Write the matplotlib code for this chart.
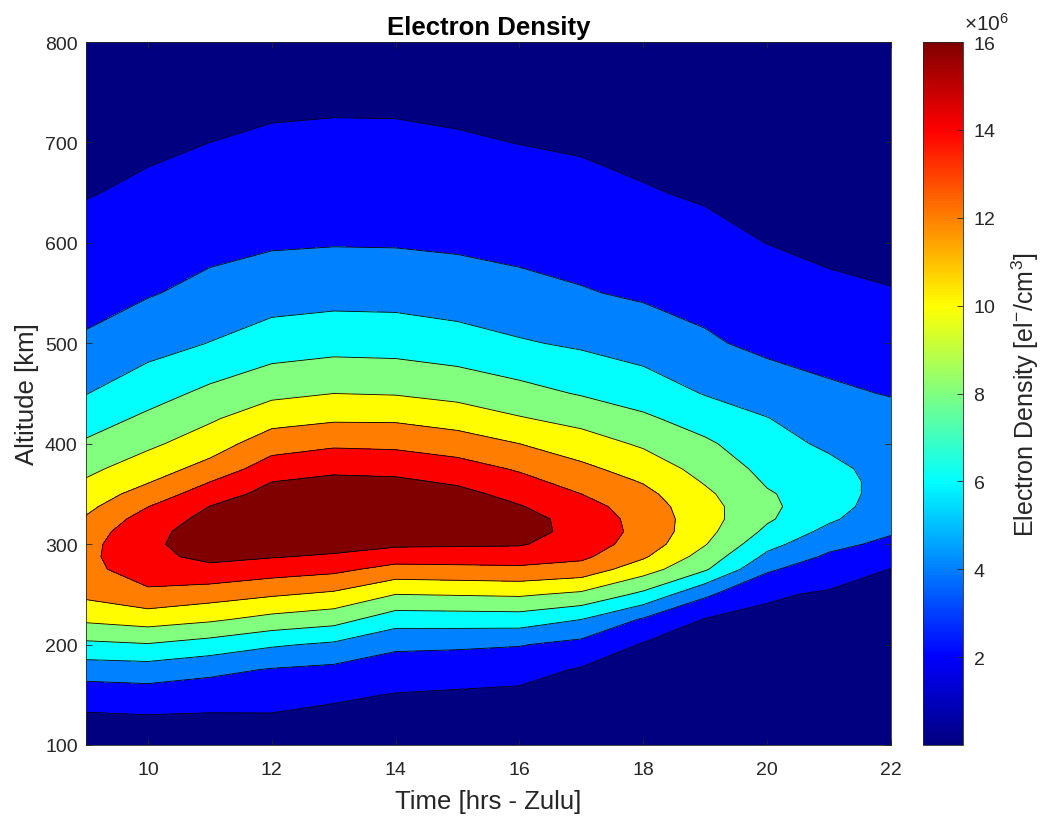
import numpy as np
import matplotlib.pyplot as plt
from matplotlib import cm, colors
from matplotlib.ticker import ScalarFormatter

plt.rcParams['font.family'] = ['Liberation Sans', 'DejaVu Sans']
plt.rcParams['mathtext.fontset'] = 'custom'
plt.rcParams['mathtext.rm'] = 'Liberation Sans'
plt.rcParams['mathtext.it'] = 'Liberation Sans:italic'

# Time grid (hours, Zulu) and altitude grid (km)
hours = [9, 10, 11, 12, 13, 14, 15, 16, 17, 18, 19, 20, 21, 22]
altitude_km = [100, 125, 150, 175, 200, 225, 250, 275, 287.5, 300, 312.5, 325,
               337.5, 350, 362.5, 375, 400, 425, 450, 500, 550, 600, 650, 700,
               750, 800]

# Electron density profiles, one per hour, in units of 1e6 el/cm^3
ne_09 = [0.8, 1.61, 2.90, 4.95, 7.58, 10.36, 12.43, 13.37, 13.5, 13.36, 12.94, 12.21,
         11.5, 10.84, 10.18, 9.54, 8.26, 7.08, 5.95, 4.22, 3.41, 2.62, 1.90, 1.47,
         1.03, 0.6]
ne_10 = [0.8, 1.71, 3.13, 5.09, 7.88, 10.89, 13.5, 15.18, 15.57, 15.7, 15.51, 14.93,
         13.96, 12.87, 11.84, 11.06, 9.61, 8.39, 7.21, 5.26, 3.86, 3.09, 2.31, 1.70,
         1.20, 0.7]
ne_11 = [0.8, 1.66, 2.86, 4.5, 7.18, 10.3, 12.89, 15.58, 16.4, 16.74, 16.78, 16.54,
         16.03, 15.0, 13.95, 12.7, 11.05, 9.74, 8.46, 6.05, 4.52, 3.50, 2.75, 2.0,
         1.4, 0.8]
ne_12 = [0.8, 1.71, 2.76, 3.87, 6.25, 9.38, 12.24, 14.95, 16.11, 16.81, 17.21, 17.29,
         17.11, 16.66, 15.96, 15.0, 13.11, 11.26, 9.54, 6.95, 5.11, 3.79, 3.03, 2.27,
         1.57, 0.9]
ne_13 = [0.7, 1.44, 2.3, 3.55, 5.68, 8.78, 11.65, 14.5, 15.75, 16.73, 17.33, 17.59,
         17.51, 17.14, 16.47, 15.56, 13.68, 11.72, 10.0, 7.26, 5.30, 3.89, 3.13, 2.37,
         1.62, 0.9]
ne_14 = [0.6, 1.26, 1.92, 3.02, 4.38, 6.89, 10.0, 13.33, 14.94, 16.33, 17.1, 17.47,
         17.44, 17.06, 16.34, 15.41, 13.56, 11.70, 9.88, 7.18, 5.26, 3.86, 3.11, 2.35,
         1.61, 0.9]
ne_15 = [0.5, 1.14, 1.77, 2.84, 4.3, 6.94, 10.13, 13.47, 14.94, 16.25, 17.0, 17.29,
         17.15, 16.59, 15.69, 14.83, 13.0, 11.11, 9.41, 6.79, 4.97, 3.71, 2.95, 2.18,
         1.50, 0.85]
ne_16 = [0.4, 1.03, 1.65, 2.63, 4.11, 7.0, 10.27, 13.6, 14.95, 16.17, 16.83, 16.8,
         16.12, 15.33, 14.58, 13.79, 12.0, 10.15, 8.65, 6.19, 4.54, 3.49, 2.72, 1.97,
         1.38, 0.8]
ne_17 = [0.3, 0.81, 1.32, 1.84, 3.42, 6.0, 9.6, 13.18, 14.4, 15.03, 15.29, 15.19,
         14.76, 14.0, 13.22, 12.44, 10.91, 9.38, 7.86, 5.71, 4.13, 3.28, 2.5, 1.80,
         1.25, 0.7]
ne_18 = [0.2, 0.61, 1.03, 1.44, 1.85, 3.78, 7.54, 10.89, 12.25, 13.12, 13.4, 13.30,
         13.0, 12.52, 11.86, 11.14, 9.72, 8.33, 7.07, 5.10, 3.74, 2.93, 2.11, 1.58,
         1.09, 0.6]
ne_19 = [0.15, 0.5, 0.85, 1.2, 1.55, 1.9, 4.33, 8.23, 9.19, 10.1, 10.59, 10.79,
         10.72, 10.37, 9.82, 9.32, 8.32, 7.13, 5.9, 4.29, 3.32, 2.48, 1.82, 1.38,
         0.94, 0.5]
ne_20 = [0.1, 0.42, 0.74, 1.06, 1.38, 1.7, 2.17, 4.3, 5.55, 6.62, 7.58, 8.26,
         8.39, 8.18, 7.79, 7.44, 6.75, 6.06, 5.15, 3.5, 2.81, 1.98, 1.58, 1.19,
         0.79, 0.4]
ne_21 = [0.1, 0.39, 0.68, 0.96, 1.25, 1.54, 1.83, 2.74, 3.67, 4.57, 5.46, 6.31,
         6.83, 7.0, 6.89, 6.54, 5.65, 4.97, 4.3, 3.29, 2.2, 1.79, 1.43, 1.07,
         0.71, 0.35]
ne_22 = [0.1, 0.37, 0.63, 0.9, 1.17, 1.43, 1.7, 1.97, 2.66, 3.52, 4.21, 4.59,
         4.88, 5.08, 5.18, 5.19, 5.01, 4.56, 3.91, 3.01, 2.05, 1.69, 1.35, 1.0,
         0.65, 0.3]

# Contour levels (1e6 el/cm^3); last one just caps the top band
levels = [0, 2, 4, 6, 8, 10, 12, 14, 16, 20]
cbar_ticks = [2, 4, 6, 8, 10, 12, 14, 16]

density = np.column_stack([ne_09, ne_10, ne_11, ne_12, ne_13, ne_14, ne_15,
                           ne_16, ne_17, ne_18, ne_19, ne_20, ne_21, ne_22]) * 1e6
T, H = np.meshgrid(hours, altitude_km)
lev = np.array(levels) * 1e6

# jet as MATLAB builds it (piecewise linear through 9 anchor colours)
jet_ml = colors.LinearSegmentedColormap.from_list('jet_ml', [
    (0, 0, 0.5), (0, 0, 1), (0, 0.5, 1), (0, 1, 1), (0.5, 1, 0.5),
    (1, 1, 0), (1, 0.5, 0), (1, 0, 0), (0.5, 0, 0)], N=256)
# each band takes the colour of its lower level, colour range 0..16e6
band_colors = [jet_ml(l / 16.0) for l in levels[:-1]]

fig = plt.figure(figsize=(10.4, 8.2), dpi=100)
ax = fig.add_axes([86 / 1040, 74 / 820, 805 / 1040, 703 / 820])

ax.contourf(T, H, density, levels=lev, colors=band_colors)
ax.contour(T, H, density, levels=lev[1:-1], colors='k', linewidths=0.6)

dark = (0.15, 0.15, 0.15)
ax.set_xlim(9, 22)
ax.set_ylim(100, 800)
ax.set_xticks(range(10, 23, 2))
ax.set_yticks(range(100, 801, 100))
ax.tick_params(axis='both', direction='in', top=True, right=True, length=4,
               width=0.6, labelsize=14, colors=dark)
ax.tick_params(axis='x', pad=11.5)
ax.tick_params(axis='y', pad=6)
for s in ax.spines.values():
    s.set_color(dark)
    s.set_linewidth(0.6)

ax.set_xlabel('Time [hrs - Zulu]', fontsize=18.5, color=dark, labelpad=8)
ax.set_ylabel('Altitude [km]', fontsize=18.5, color=dark, labelpad=4)
ax.set_title('Electron Density', fontsize=18.5, fontweight='bold', pad=6)

# colour bar
cax = fig.add_axes([923 / 1040, 74 / 820, 40 / 1040, 703 / 820])
sm = cm.ScalarMappable(norm=colors.Normalize(0, 16e6), cmap=jet_ml)
cb = fig.colorbar(sm, cax=cax)
cb.set_ticks(np.array(cbar_ticks) * 1e6)
fmt = ScalarFormatter(useMathText=True)
fmt.set_powerlimits((6, 6))
cb.formatter = fmt
cb.update_ticks()
cax.yaxis.get_offset_text().set_visible(False)
cb.outline.set_edgecolor(dark)
cb.outline.set_linewidth(0.6)
cax.tick_params(direction='in', length=4, width=0.6, labelsize=14, colors=dark, pad=7)
cb.set_label(r'Electron Density [el$^{-}$/cm$^{3}$]', fontsize=18, color=dark,
             labelpad=10)
fig.text(964 / 1040, 1 - 24 / 820, r'$\times$10$^{6}$', fontsize=15, color=dark,
         ha='left', va='center')

fig.savefig('out.png', dpi=100)
